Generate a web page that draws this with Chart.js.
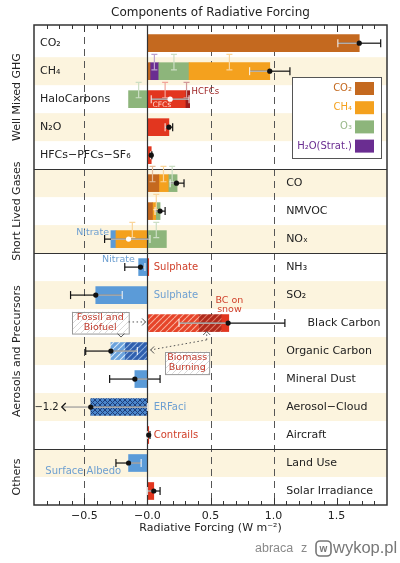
<!DOCTYPE html>
<html><head><meta charset="utf-8">
<script src="https://cdn.jsdelivr.net/npm/chart.js@4.4.1/dist/chart.umd.min.js"></script>
<style>html,body{margin:0;padding:0;background:#fff}#wrap{width:400px;height:563px;position:relative}</style>
</head><body><div id="wrap"><canvas id="c" width="400" height="563"></canvas></div>
<script>
// ---------------- DATA ----------------
const rowLabels = ['CO₂','CH₄','HaloCarbons','N₂O','HFCs−PFCs−SF₆','CO','NMVOC','NOₓ','NH₃','SO₂','Black Carbon','Organic Carbon','Mineral Dust','Aerosol−Cloud','Aircraft','Land Use','Solar Irradiance'];
const sectionNames = ['Well Mixed GHG','Short Lived Gases','Aerosols and Precursors','Others'];
const sectionFirstRow = [0,5,8,15];
const N = null;
// segments per row: [from, to] in W m-2
const co2Part      = [[0,1.68],[0,0.02],N,N,N,[0,0.09],[0,0.04],N,N,N,N,N,N,N,N,N,N];
const ch4Part      = [N,[0.33,0.97],N,N,N,[0.09,0.165],[0.04,0.065],[-0.25,0],N,N,N,N,N,N,N,N,N];
const o3Part       = [N,[0.09,0.33],[-0.15,0],N,N,[0.165,0.235],[0.065,0.10],[0,0.15],N,N,N,N,N,N,N,N,N];
const h2oPart      = [N,[0.02,0.09],N,N,N,N,N,N,N,N,N,N,N,N,N,N,N];
const redPart      = [N,N,[0,0.30],[0,0.17],[0,0.03],N,N,N,[0,0.01],N,[0.59,0.645],N,N,N,[0,0.01],N,[0,0.05]];
const hcfcPart     = [N,N,[0.30,0.335],N,N,N,N,N,N,N,N,N,N,N,N,N,N];
const aerosolPart  = [N,N,N,N,N,N,N,[-0.29,-0.25],[-0.07,0],[-0.41,0],N,N,[-0.10,0],N,N,[-0.15,0],N];
const bcFossilPart = [N,N,N,N,N,N,N,N,N,N,[0,0.405],N,N,N,N,N,N];
const bcBiomassPart= [N,N,N,N,N,N,N,N,N,N,[0.405,0.59],N,N,N,N,N,N];
const ocFossilPart = [N,N,N,N,N,N,N,N,N,N,N,[-0.29,-0.18],N,N,N,N,N];
const ocBiomassPart= [N,N,N,N,N,N,N,N,N,N,N,[-0.18,0],N,N,N,N,N];
const aciPart      = [N,N,N,N,N,N,N,N,N,N,N,N,N,[-0.45,0],N,N,N];
// totals and uncertainty ranges
const best = [1.68,0.97,0.18,0.17,0.03,0.23,0.10,-0.15,-0.055,-0.41,0.64,-0.29,-0.10,-0.45,0.01,-0.15,0.05];
const low  = [1.51,0.81,0.03,0.14,0.025,0.18,0.06,-0.34,-0.18,-0.61,0.25,-0.49,-0.30,-1.2,0.0,-0.25,0.0];
const high = [1.85,1.13,0.33,0.20,0.035,0.29,0.14,0.02,-0.02,-0.20,1.09,-0.08,0.10,0.0,0.02,-0.05,0.10];
// component uncertainty markers
const compRow  = [1,1,1,2,2,2,5,5,5,6,7,7];
const compX    = [0.055,0.21,0.65,-0.07,0.14,0.31,0.04,0.127,0.196,0.07,-0.12,0.07];
const compKind = ['h2o','o3','ch4','o3','red','hcfc','co2','ch4','o3','ch4','ch4','o3'];
// axis
const tickLabelsAt = [-0.5,0,0.5,1.0,1.5];
const dashedAt = [-0.5,0.5,1.0];
const legendNames = ['CO₂','CH₄','O₃','H₂O(Strat.)'];
const legendKinds = ['co2','ch4','o3','h2o'];
const offscaleArrowAt = -0.68;

// ---------------- STYLE ----------------
const FONT = "'DejaVu Sans', sans-serif";
Chart.defaults.font.family = FONT;
const Cc = { co2:'#c4691f', ch4:'#f4a11e', o3:'#8db57b', h2o:'#6a2d91', red:'#e2361f', hcfc:'#9b1c1c',
  blue:'#5b9bd8', txtBlue:'#6d9fd1', txtRed:'#d0402a', band:'#fcf4de', ink:'#222',
  legTxt:{co2:'#c4691f', ch4:'#f4a11e', o3:'#9ab88a', h2o:'#6a2d91'} };
const canvas = document.getElementById('c');
const ctx0 = canvas.getContext('2d');
function pat(base, line, cross, size, lw){
  const c=document.createElement('canvas'); c.width=c.height=size;
  const g=c.getContext('2d'); g.fillStyle=base; g.fillRect(0,0,size,size);
  g.strokeStyle=line; g.lineWidth=lw||1.2; g.beginPath();
  for(const k of [-size,0,size]){ g.moveTo(k,size); g.lineTo(k+size,0); if(cross){ g.moveTo(k,0); g.lineTo(k+size,size);} }
  g.stroke(); return ctx0.createPattern(c,'repeat');
}
const P = {
  bcF: pat('#e6442a','#f7b09c',false,6,1.1),
  bcB: pat('#b02a1c','#e07a66',false,6,1.1),
  ocF: pat('#6aa2dc','#d6e7f7',false,6,1.1),
  ocB: pat('#2f5fae','#8fb2e0',false,6,1.1),
  aci: pat('#4a86cc','#1f3f7a',true,5,1.0),
  box: pat('#ffffff','#d9d9d9',false,6,1)
};
function tint(hex, f){
  const n=parseInt(hex.slice(1),16); const r=n>>16&255,g=n>>8&255,b=n&255;
  return `rgb(${Math.round(r+(255-r)*f)},${Math.round(g+(255-g)*f)},${Math.round(b+(255-b)*f)})`;
}
const parts = [
  {arr:co2Part,color:Cc.co2},{arr:ch4Part,color:Cc.ch4},{arr:o3Part,color:Cc.o3},{arr:h2oPart,color:Cc.h2o},
  {arr:redPart,color:Cc.red},{arr:hcfcPart,color:Cc.hcfc},{arr:aerosolPart,color:Cc.blue},
  {arr:bcFossilPart,color:P.bcF},{arr:bcBiomassPart,color:P.bcB},{arr:ocFossilPart,color:P.ocF},
  {arr:ocBiomassPart,color:P.ocB},{arr:aciPart,color:P.aci}
];
const datasets = parts.map(p => ({
  data: p.arr.map((v,i)=> v ? {x:v, y:i+0.5} : null).filter(Boolean),
  backgroundColor: p.color, borderWidth:0, barThickness:17, grouped:false
}));

function fmt(v){ return (v<0?'−':'') + Math.abs(v).toFixed(1); }

function chevron(g, x, y, dir, s){
  g.beginPath();
  if(dir==='right'){ g.moveTo(x-s,y-s); g.lineTo(x,y); g.lineTo(x-s,y+s); }
  if(dir==='left'){ g.moveTo(x+s,y-s); g.lineTo(x,y); g.lineTo(x+s,y+s); }
  if(dir==='up'){ g.moveTo(x-s,y+s); g.lineTo(x,y); g.lineTo(x+s,y+s); }
  if(dir==='down'){ g.moveTo(x-s,y-s); g.lineTo(x,y); g.lineTo(x+s,y-s); }
  g.stroke();
}

const deco = {
  id:'deco',
  beforeDatasetsDraw(chart){
    const {ctx, chartArea:a, scales:{x:xs, y:ys}} = chart;
    ctx.save();
    ctx.fillStyle = Cc.band;
    for(let i=1;i<rowLabels.length;i+=2){ const t=ys.getPixelForValue(i), b=ys.getPixelForValue(i+1); ctx.fillRect(a.left,t,a.right-a.left,b-t); }
    ctx.strokeStyle='#555'; ctx.lineWidth=1; ctx.setLineDash([7,5]);
    for(const v of dashedAt){ const p=Math.round(xs.getPixelForValue(v))+0.5; ctx.beginPath(); ctx.moveTo(p,a.top); ctx.lineTo(p,a.bottom); ctx.stroke(); }
    ctx.restore();
  },
  afterDatasetsDraw(chart){
    const {ctx, chartArea:a, scales:{x:xs, y:ys}} = chart;
    const px = v => xs.getPixelForValue(v), py = v => ys.getPixelForValue(v);
    const rowH = Math.abs(py(1)-py(0));
    ctx.save();
    // zero line, dividers
    ctx.strokeStyle='#333'; ctx.lineWidth=1.2;
    ctx.beginPath(); ctx.moveTo(Math.round(px(0))+0.5,a.top); ctx.lineTo(Math.round(px(0))+0.5,a.bottom); ctx.stroke();
    for(const r of sectionFirstRow.slice(1)){ const y=Math.round(py(r))+0.5; ctx.beginPath(); ctx.moveTo(a.left,y); ctx.lineTo(a.right,y); ctx.stroke(); }
    // ticks
    ctx.lineWidth=1;
    for(const t of xs.ticks){
      const v=t.value; if(v<=xs.min+1e-9||v>=xs.max-1e-9) continue;
      const major = Math.abs(v*2-Math.round(v*2))<1e-6;
      const L = major?7:4; const p=Math.round(px(v))+0.5;
      ctx.beginPath(); ctx.moveTo(p,a.top); ctx.lineTo(p,a.top+L); ctx.moveTo(p,a.bottom); ctx.lineTo(p,a.bottom-L); ctx.stroke();
    }
    ctx.lineWidth=1.5; ctx.strokeRect(a.left,a.top,a.right-a.left,a.bottom-a.top);
    // component markers
    ctx.lineWidth=1.2;
    compRow.forEach((r,k)=>{
      const x=px(compX[k]), yc=py(r+0.5), t=yc-0.6*rowH, b=yc-0.05*rowH;
      ctx.strokeStyle = tint(Cc[compKind[k]], 0.55);
      ctx.beginPath(); ctx.moveTo(x,t); ctx.lineTo(x,b); ctx.moveTo(x-3,t); ctx.lineTo(x+3,t); ctx.moveTo(x-3,b); ctx.lineTo(x+3,b); ctx.stroke();
    });
    // uncertainty whiskers and best estimates
    const allParts = parts.map(p=>p.arr);
    const light='rgba(255,255,255,0.8)', dark='#111';
    rowLabels.forEach((_,i)=>{
      const segs = allParts.map(arr=>arr[i]).filter(Boolean);
      const bMin = Math.min(...segs.map(s=>s[0])), bMax = Math.max(...segs.map(s=>s[1]));
      const y = py(i+0.5); const lo=low[i], hi=high[i];
      const off = lo < xs.min;
      const loV = off ? offscaleArrowAt : lo;
      ctx.lineWidth=1.2;
      ctx.strokeStyle = off ? '#999' : dark;
      ctx.beginPath(); ctx.moveTo(px(loV),y); ctx.lineTo(px(best[i]),y); ctx.stroke();
      ctx.strokeStyle = dark;
      ctx.beginPath(); ctx.moveTo(px(best[i]),y); ctx.lineTo(px(hi),y); ctx.stroke();
      const inA=Math.max(lo,bMin), inB=Math.min(hi,bMax);
      if(inB>inA){ ctx.strokeStyle=light; ctx.beginPath(); ctx.moveTo(px(inA),y); ctx.lineTo(px(inB),y); ctx.stroke(); }
      const inside = v => v>=bMin-0.004 && v<=bMax+0.004;
      const caps = off ? [hi] : [lo,hi];
      for(const v of caps){ ctx.strokeStyle = inside(v)?light:dark; ctx.beginPath(); ctx.moveTo(px(v),y-4); ctx.lineTo(px(v),y+4); ctx.stroke(); }
      if(off){
        ctx.strokeStyle=dark; chevron(ctx, px(loV), y, 'left', 4);
        ctx.fillStyle=Cc.ink; ctx.font=`10px ${FONT}`; ctx.textAlign='right'; ctx.textBaseline='middle';
        ctx.fillText(fmt(lo), px(loV)-3, y);
      }
      const white = best[i]>bMin+0.03 && best[i]<bMax-0.03;
      ctx.fillStyle = white ? '#fff' : dark;
      ctx.beginPath(); ctx.arc(px(best[i]),y,2.6,0,Math.PI*2); ctx.fill();
    });
    // row labels
    ctx.fillStyle=Cc.ink; ctx.font=`11px ${FONT}`; ctx.textBaseline='middle'; ctx.textAlign='left';
    rowLabels.forEach((lab,i)=>{
      const y=py(i+0.5);
      const x = i < sectionFirstRow[1] ? a.left+6 : px(Math.max(1.1, high[i]+0.18));
      ctx.fillText(lab, x, y);
    });
    // in-plot annotations
    const txt=(s,x,y,col,size,al)=>{ ctx.fillStyle=col; ctx.font=`${size}px ${FONT}`; ctx.textAlign=al||'left'; ctx.textBaseline='middle'; ctx.fillText(s,x,y); };
    txt('HCFCs', px(0.35), py(2.5)-7, Cc.hcfc, 8.5);
    txt('CFCs', px(0.04), py(2.5)+6, '#ffd5cc', 7.5);
    txt('Nitrate', px(-0.305), py(7.5)-7, Cc.txtBlue, 9.5, 'right');
    txt('Nitrate', px(-0.10), py(8.5)-8, Cc.txtBlue, 9.5, 'right');
    txt('Sulphate', px(0.05), py(8.5), Cc.txtRed, 10);
    txt('Sulphate', px(0.05), py(9.5), Cc.txtBlue, 10);
    txt('BC on', px(0.65), py(10.5)-23, Cc.txtRed, 9.5, 'center');
    txt('snow', px(0.65), py(10.5)-14, Cc.txtRed, 9.5, 'center');
    txt('ERFaci', px(0.05), py(13.5), Cc.txtBlue, 10);
    txt('Contrails', px(0.05), py(14.5), Cc.txtRed, 10);
    txt('Surface Albedo', px(-0.81), py(15.5)+8, Cc.txtBlue, 10);
    // label boxes
    const box=(x0,x1,y0,y1,lines)=>{
      const X0=px(x0),X1=px(x1),Y0=py(y0),Y1=py(y1);
      ctx.fillStyle=P.box; ctx.fillRect(X0,Y0,X1-X0,Y1-Y0);
      ctx.strokeStyle='#999'; ctx.lineWidth=1; ctx.strokeRect(Math.round(X0)+0.5,Math.round(Y0)+0.5,X1-X0,Y1-Y0);
      const cx=(X0+X1)/2, cy=(Y0+Y1)/2;
      txt(lines[0],cx,cy-5,'#c0392b',9.5,'center'); txt(lines[1],cx,cy+5,'#c0392b',9.5,'center');
    };
    box(-0.6,-0.15,10.09,10.86,['Fossil and','Biofuel']);
    box(0.14,0.49,11.52,12.31,['Biomass','Burning']);
    // dotted pointers
    ctx.strokeStyle='#555'; ctx.lineWidth=1; ctx.setLineDash([1.5,2.5]);
    ctx.beginPath(); ctx.moveTo(px(-0.15),py(10.46)); ctx.lineTo(px(-0.015),py(10.46)); ctx.stroke();
    ctx.beginPath(); ctx.moveTo(px(0.47),py(11.1)); ctx.lineTo(px(0.47),py(10.8)); ctx.moveTo(px(0.47),py(11.1)); ctx.lineTo(px(0.025),py(11.46)); ctx.stroke();
    ctx.setLineDash([]);
    chevron(ctx, px(-0.015), py(10.46), 'right', 3.5);
    chevron(ctx, px(-0.21), py(11.0), 'down', 3.5);
    chevron(ctx, px(0.47), py(10.8), 'up', 3.5);
    chevron(ctx, px(0.025), py(11.46), 'left', 3.5);
    // legend
    const lx=a.right-95, ly=a.top+52, lw=89, lh=81;
    ctx.fillStyle='#fff'; ctx.fillRect(lx,ly,lw,lh);
    ctx.strokeStyle='#555'; ctx.lineWidth=1; ctx.strokeRect(Math.round(lx)+0.5,Math.round(ly)+0.5,lw,lh);
    legendNames.forEach((n,k)=>{
      const yy = ly+11.5+k*19.2;
      ctx.fillStyle=Cc[legendKinds[k]]; ctx.fillRect(lx+63,yy-6.5,19,13);
      txt(n, lx+60, yy, Cc.legTxt[legendKinds[k]], 10, 'right');
    });
    ctx.restore();
  },
  afterDraw(chart){
    const {ctx, chartArea:a, scales:{y:ys}} = chart;
    ctx.save();
    ctx.fillStyle=Cc.ink; ctx.font=`11px ${FONT}`; ctx.textAlign='center'; ctx.textBaseline='middle';
    sectionNames.forEach((s,k)=>{
      const r0=sectionFirstRow[k], r1 = k+1<sectionFirstRow.length ? sectionFirstRow[k+1] : rowLabels.length;
      const top = k===0 ? a.top : ys.getPixelForValue(r0);
      const yc=(top+ys.getPixelForValue(r1))/2;
      ctx.save(); ctx.translate(17,yc); ctx.rotate(-Math.PI/2); ctx.fillText(s,0,0); ctx.restore();
    });
    // watermark
    ctx.fillStyle='#8a8a8a'; ctx.textAlign='left'; ctx.font="12.5px 'Liberation Sans', sans-serif";
    ctx.fillText('abraca', 255, 549); ctx.fillText('z', 301, 549);
    ctx.strokeStyle='#777'; ctx.lineWidth=1.6;
    ctx.beginPath(); ctx.roundRect(316,541,15,15,4); ctx.stroke();
    ctx.fillStyle='#777'; ctx.font="bold 10px 'Liberation Sans', sans-serif"; ctx.textAlign='center'; ctx.fillText('w',323.5,549);
    ctx.textAlign='left'; ctx.font="16.5px 'Liberation Sans', sans-serif"; ctx.fillText('wykop.pl', 333, 548);
    ctx.restore();
  }
};

new Chart(canvas, {
  type:'bar',
  data:{ datasets },
  options:{
    indexAxis:'y', responsive:false, animation:false, devicePixelRatio:1,
    layout:{ padding:{ left:34, right:13, top:0, bottom:0 } },
    plugins:{
      legend:{display:false}, tooltip:{enabled:false},
      title:{ display:true, text:'Components of Radiative Forcing', color:'#222', font:{size:12, weight:'normal', family:FONT}, padding:{top:6,bottom:4.6} }
    },
    scales:{
      y:{ type:'linear', reverse:true, min:-0.15, max:17, display:false, offset:false },
      x:{ type:'linear', min:-0.9, max:1.9, position:'bottom', offset:false,
          grid:{display:false, drawTicks:false}, border:{display:false},
          ticks:{ stepSize:0.1, autoSkip:false, maxRotation:0, padding:5, color:'#222', font:{size:11},
                  callback:(v)=> tickLabelsAt.some(m=>Math.abs(m-v)<1e-6) ? fmt(v) : '' },
          title:{ display:true, text:'Radiative Forcing (W m⁻²)', color:'#222', font:{size:11}, padding:{top:0,bottom:28.4} },
          afterFit:(s)=>{ s.height = 58; } }
    }
  },
  plugins:[deco]
});
</script></body></html>
